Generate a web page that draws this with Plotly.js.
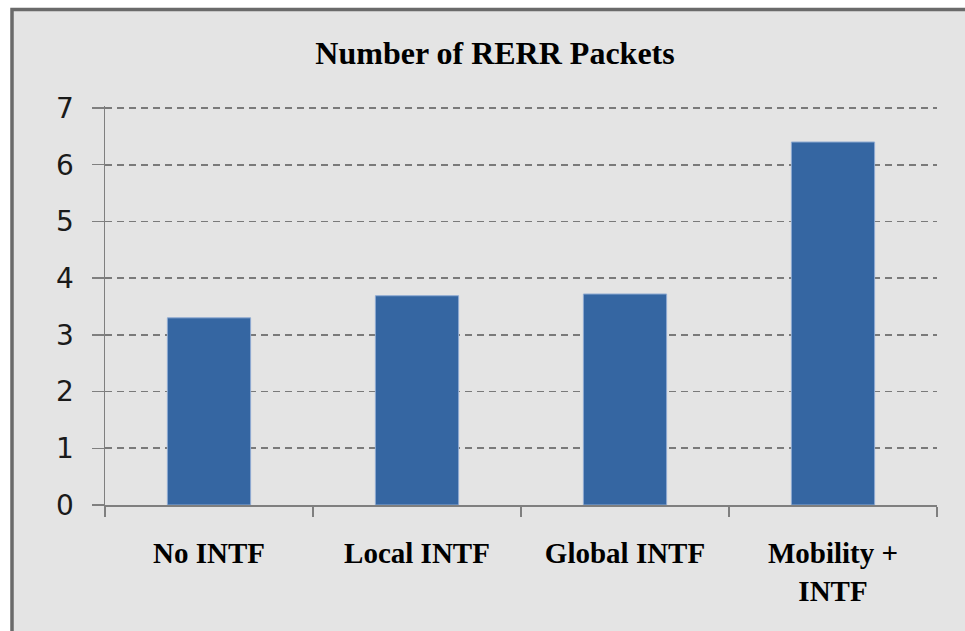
<!DOCTYPE html>
<html>
<head>
<meta charset="utf-8">
<script src="https://cdn.plot.ly/plotly-3.0.1.min.js"></script>
<style>
html,body{margin:0;padding:0;background:#ffffff;}
#chart{width:965px;height:631px;}
</style>
</head>
<body>
<div id="chart"></div>
<script>
var categories = ["No INTF", "Local INTF", "Global INTF", "Mobility +<br>INTF"];
var rerrPackets = [3.30, 3.69, 3.72, 6.40];
var yTicks = [0, 1, 2, 3, 4, 5, 6, 7];

var trace = {
  type: "bar",
  x: categories,
  y: rerrPackets,
  marker: {color: "#3566a2", line: {color: "#8fabd2", width: 1}},
  hoverinfo: "x+y"
};

var plotH = 631 - 106 - 126;

var layout = {
  width: 965,
  height: 631,
  margin: {l: 105, r: 28, t: 106, b: 126, pad: 0},
  paper_bgcolor: "#ffffff",
  plot_bgcolor: "rgba(0,0,0,0)",
  showlegend: false,
  bargap: 0.6,
  title: {
    text: "<b>Number of RERR Packets</b>",
    font: {family: "Liberation Serif, Times New Roman, serif", size: 32, color: "#000000"},
    x: 495 / 965, xanchor: "center", xref: "container",
    y: 1 - 53/631, yanchor: "middle"
  },
  xaxis: {
    type: "category",
    tickson: "boundaries",
    ticks: "outside",
    ticklen: 10,
    tickwidth: 1.5,
    tickcolor: "#7f7f7f",
    showline: true,
    linecolor: "#7f7f7f",
    linewidth: 1.5,
    showgrid: false,
    zeroline: false,
    ticklabelstandoff: 22,
    tickfont: {family: "Liberation Serif, Times New Roman, serif", size: 29, color: "#000000", weight: "bold"}
  },
  yaxis: {
    range: [0, 7.035],
    tickvals: yTicks,
    ticktext: yTicks.map(String),
    ticks: "outside",
    ticklen: 12,
    tickwidth: 1.5,
    tickcolor: "#7f7f7f",
    showline: true,
    linecolor: "#7f7f7f",
    linewidth: 1.5,
    showgrid: true,
    gridcolor: "#7a7a7a",
    gridwidth: 1.6,
    griddash: "7px,5px",
    zeroline: false,
    ticklabelstandoff: 12,
    tickfont: {family: "DejaVu Sans, Verdana, sans-serif", size: 28, color: "#1a1a1a"}
  },
  shapes: [{
    type: "rect",
    xref: "paper", yref: "paper",
    x0: (12 - 105) / 832, x1: (990 - 105) / 832,
    y0: (505 - 660) / plotH, y1: (505 - 9.5) / plotH,
    fillcolor: "#e4e4e4",
    line: {color: "#6a6a6a", width: 3.5},
    layer: "below"
  }]
};

Plotly.newPlot("chart", [trace], layout, {displayModeBar: false, staticPlot: true});
</script>
</body>
</html>
